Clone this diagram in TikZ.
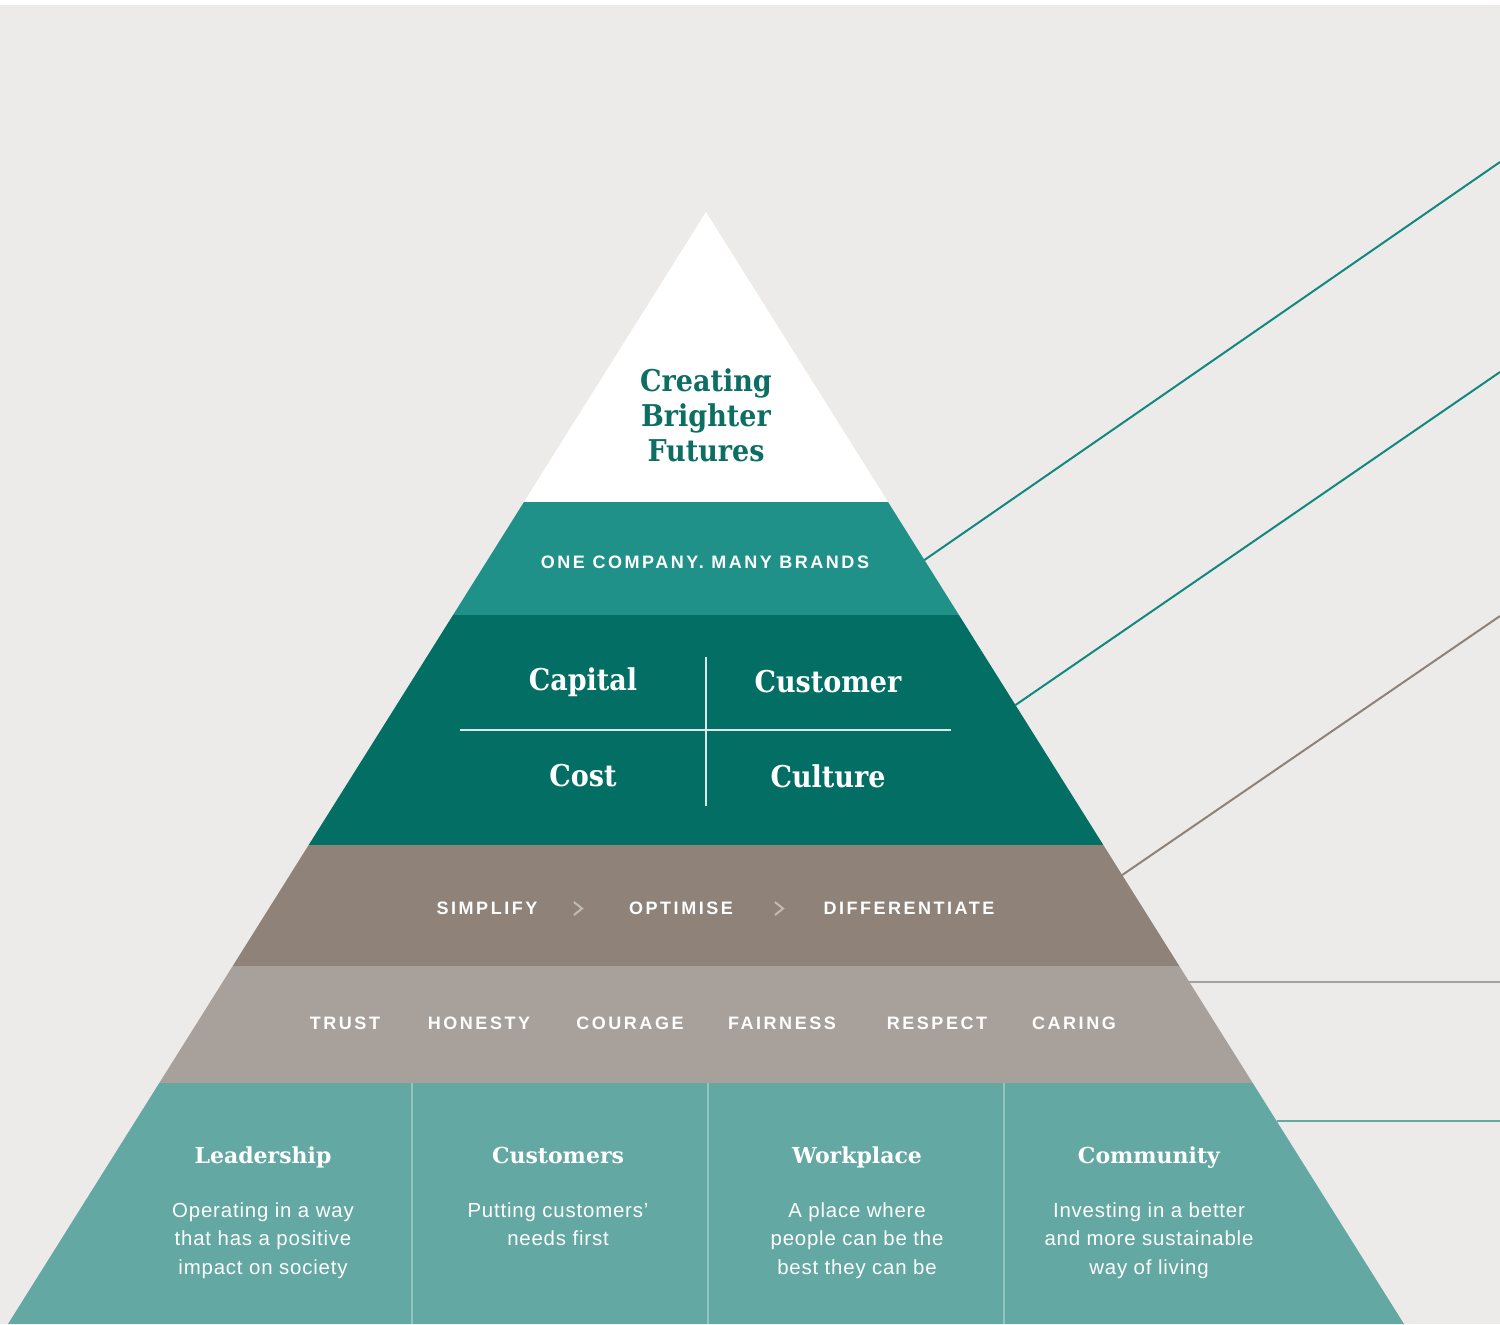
\documentclass[tikz,border=0pt]{standalone}
\usepackage{fontspec}
\setmainfont{Liberation Sans}
\newfontfamily\slabfont{DejaVu Serif}
\newfontfamily\slabcond{DejaVu Serif Condensed}
\newfontfamily\trackfont[LetterSpace=14]{Liberation Sans}
\newfontfamily\bodyfont[LetterSpace=4]{Liberation Sans}
\usetikzlibrary{positioning}
\definecolor{paper}{HTML}{EDEBE9}
\definecolor{brandteal}{HTML}{1F9189}
\definecolor{deepteal}{HTML}{036E63}
\definecolor{taupe}{HTML}{8E8279}
\definecolor{paletaupe}{HTML}{A8A09A}
\definecolor{softteal}{HTML}{63A8A3}
\definecolor{inkteal}{HTML}{0D6E63}
\definecolor{linkteal}{HTML}{12887E}
\definecolor{chevron}{HTML}{C2BBB5}
\definecolor{splitline}{HTML}{92C4C0}
\tikzstyle{tracked}=[text=white, inner sep=0pt, font=\trackfont\bfseries\fontsize{9}{10}\selectfont]
\tikzstyle{quad}=[text=white, inner sep=0pt, font=\slabcond\bfseries\fontsize{15}{18}\selectfont]
\tikzstyle{pillarhead}=[text=white, inner sep=0pt, anchor=base, font=\slabfont\bfseries\fontsize{11}{13}\selectfont]
\tikzstyle{pillartext}=[text=white, inner sep=0pt, align=center, font=\bodyfont\fontsize{10.2}{14.3}\selectfont]
\tikzstyle{leader}=[line width=1pt]
\tikzstyle{chevronstyle}=[draw=chevron, line width=1pt]
\newcommand{\valuenode}[3]{\node [tracked] (#1) at (#2,1023) {#3};}
\newcommand{\pillar}[5]{\node [pillarhead] (#1) at (#2,1163) {#3};
  \node [pillartext, below=19.5pt of #1.base] (#4) {#5};}

\begin{document}
\begin{tikzpicture}[x=0.5pt, y=-0.5pt]
\useasboundingbox (0,0) rectangle (1500,1324);
\fill [white] (0,0) rectangle (1500,1324);
\fill [paper] (0,5) rectangle (1500,1324);
% pyramid outline
\coordinate (apex) at (706,212);
\coordinate (baseL) at (8,1324);
\coordinate (baseR) at (1404,1324);
\begin{scope}
\clip (apex) -- (baseL) -- (baseR) -- cycle;
\fill [white] (0,200) rectangle (1500,502);
\fill [brandteal] (0,502) rectangle (1500,615);
\fill [deepteal] (0,615) rectangle (1500,845);
\fill [taupe] (0,845) rectangle (1500,966);
\fill [paletaupe] (0,966) rectangle (1500,1083);
\fill [softteal] (0,1083) rectangle (1500,1330);
\end{scope}
% top
\node [text=inkteal, align=center, inner sep=0pt,
  font=\slabcond\bfseries\fontsize{15}{17.5}\selectfont] (purpose) at (706,415) {Creating\\Brighter\\Futures};
\node [tracked] (brands) at (705,562) {ONE COMPANY. MANY BRANDS};
% four Cs
\coordinate (qtop) at (706,657);
\coordinate (qbot) at (706,806);
\coordinate (qleft) at (460,730);
\coordinate (qright) at (951,730);
\draw [white!85!deepteal, line width=0.8pt] (qtop) -- (qbot);
\draw [white!85!deepteal, line width=0.8pt] (qleft) -- (qright);
\node [quad] (capital) at (583,682) {Capital};
\node [quad] (customer) at (828,682) {Customer};
\node [quad] (cost) at (583,776) {Cost};
\node [quad] (culture) at (828,776) {Culture};
% strategy
\node [tracked] (simplify) at (487,908) {SIMPLIFY};
\node [tracked] (optimise) at (681,908) {OPTIMISE};
\node [tracked] (differentiate) at (909,908) {DIFFERENTIATE};
\draw [chevronstyle] (574,902) -- (582,908.5) -- (574,915);
\draw [chevronstyle] (775,902) -- (783,908.5) -- (775,915);
% values
\valuenode{trust}{345}{TRUST}
\valuenode{honesty}{479}{HONESTY}
\valuenode{courage}{630}{COURAGE}
\valuenode{fairness}{782}{FAIRNESS}
\valuenode{respect}{937}{RESPECT}
\valuenode{caring}{1074}{CARING}
% pillars
\coordinate (split1a) at (412,1083); \coordinate (split1b) at (412,1324);
\coordinate (split2a) at (708,1083); \coordinate (split2b) at (708,1324);
\coordinate (split3a) at (1004,1083); \coordinate (split3b) at (1004,1324);
\draw [splitline, line width=0.8pt] (split1a) -- (split1b);
\draw [splitline, line width=0.8pt] (split2a) -- (split2b);
\draw [splitline, line width=0.8pt] (split3a) -- (split3b);
\pillar{leadership}{263}{Leadership}{leadtext}{Operating in a way\\that has a positive\\impact on society}
\pillar{customers}{558}{Customers}{custtext}{Putting customers’\\needs first}
\pillar{workplace}{857}{Workplace}{worktext}{A place where\\people can be the\\best they can be}
\pillar{community}{1149}{Community}{commtext}{Investing in a better\\and more sustainable\\way of living}
% leader lines
\coordinate (edge1) at (924.4,560);   \coordinate (tip1) at (1500,162);
\coordinate (edge2) at (1015.5,705);  \coordinate (tip2) at (1500,372);
\coordinate (edge3) at (1122.2,875);  \coordinate (tip3) at (1500,616);
\coordinate (edge4) at (1189.3,982);  \coordinate (tip4) at (1500,982);
\coordinate (edge5) at (1276.6,1121); \coordinate (tip5) at (1500,1121);
\draw [leader, linkteal] (edge1) -- (tip1);
\draw [leader, linkteal] (edge2) -- (tip2);
\draw [leader, taupe] (edge3) -- (tip3);
\draw [leader, paletaupe] (edge4) -- (tip4);
\draw [leader, softteal] (edge5) -- (tip5);
\end{tikzpicture}
\end{document}
